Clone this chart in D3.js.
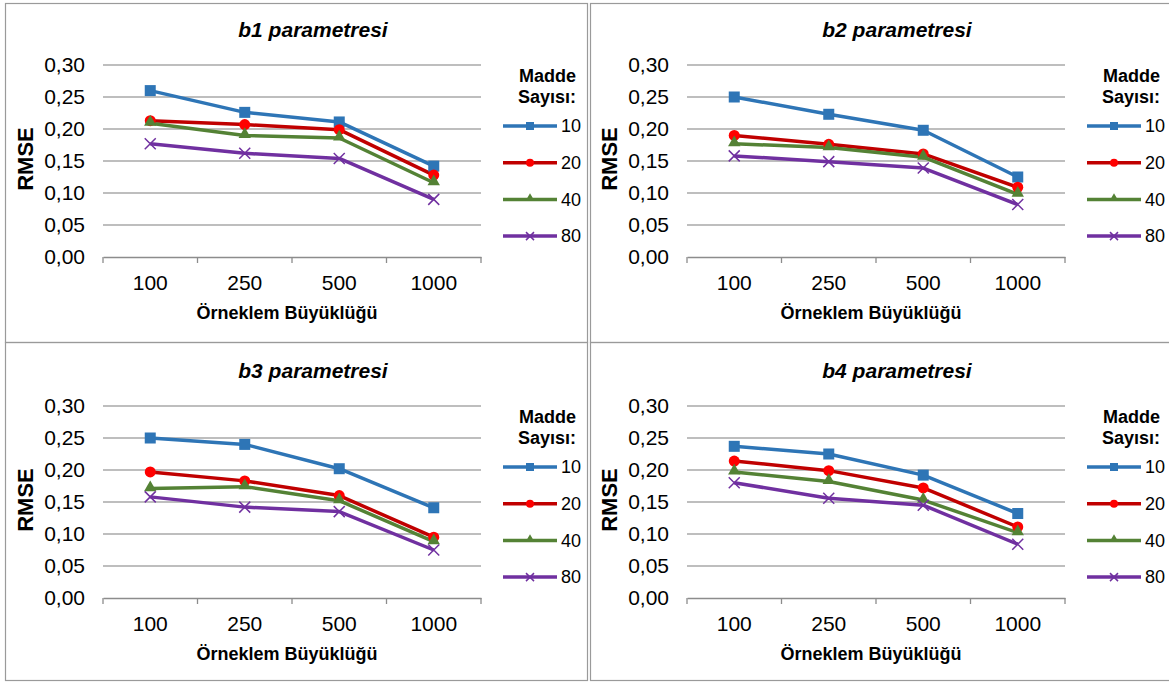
<!DOCTYPE html>
<html>
<head>
  <meta charset="utf-8">
  <style>
    body { margin: 0; background: #fff; }
    svg { display: block; font-family: "Liberation Sans", Arial, sans-serif; }
  </style>
</head>
<body>
  <div id="chart"></div>
  <script src="https://d3js.org/d3.v7.min.js"></script>
  <script>

    // data
    var sampleSizes = ["100", "250", "500", "1000"];
    var itemCounts = ["10", "20", "40", "80"];
    var panelTitles = ["b1 parametresi", "b2 parametresi", "b3 parametresi", "b4 parametresi"];
    var yTicks = [0, 0.05, 0.10, 0.15, 0.20, 0.25, 0.30];

    // one row per item count (10, 20, 40, 80), one value per sample size
    var b1Rmse = [
      [0.260, 0.226, 0.211, 0.142],
      [0.213, 0.207, 0.199, 0.128],
      [0.209, 0.190, 0.186, 0.116],
      [0.177, 0.162, 0.154, 0.090]
    ];
    var b2Rmse = [
      [0.250, 0.223, 0.198, 0.125],
      [0.190, 0.176, 0.161, 0.109],
      [0.177, 0.171, 0.156, 0.098],
      [0.158, 0.149, 0.139, 0.082]
    ];
    var b3Rmse = [
      [0.250, 0.240, 0.202, 0.141],
      [0.197, 0.183, 0.160, 0.095],
      [0.171, 0.174, 0.152, 0.088],
      [0.158, 0.142, 0.135, 0.075]
    ];
    var b4Rmse = [
      [0.237, 0.225, 0.192, 0.132],
      [0.214, 0.199, 0.172, 0.111],
      [0.197, 0.182, 0.153, 0.102],
      [0.180, 0.156, 0.145, 0.084]
    ];
    var panelData = [b1Rmse, b2Rmse, b3Rmse, b4Rmse];

    var lineColors = ["#2E75B6", "#C00000", "#548235", "#7030A0"];
    var markerColors = ["#2E75B6", "#FF0000", "#548235", "#7030A0"];
    var markerKinds = ["square", "circle", "triangle", "cross"];

    var W = 1169, H = 682;
    var svg = d3.select("#chart").append("svg")
        .attr("width", W)
        .attr("height", H);

    // frames (panel borders)
    var frames = [
      {x: 5, y: 3, w: 582, h: 339},
      {x: 590, y: 3, w: 600, h: 339},
      {x: 5, y: 342, w: 582, h: 338},
      {x: 590, y: 342, w: 600, h: 338}
    ];
    // plot area origins
    var plots = [
      {x: 103, y: 65},
      {x: 687, y: 65},
      {x: 103, y: 406},
      {x: 687, y: 406}
    ];
    var pw = 378, ph = 192;

    frames.forEach(function (f) {
      svg.append("rect")
          .attr("x", f.x + 0.5).attr("y", f.y + 0.5)
          .attr("width", f.w).attr("height", f.h)
          .attr("fill", "none")
          .attr("stroke", "#9a9a9a")
          .attr("stroke-width", 1.2);
    });

    var fmt = function (v) { return d3.format(".2f")(v).replace(".", ","); };

    function drawMarker(g, kind, cx, cy, s, color) {
      if (kind === "square") {
        g.append("rect")
            .attr("x", cx - s / 2).attr("y", cy - s / 2)
            .attr("width", s).attr("height", s)
            .attr("fill", color);
      } else if (kind === "circle") {
        g.append("circle")
            .attr("cx", cx).attr("cy", cy).attr("r", s / 2)
            .attr("fill", color);
      } else if (kind === "triangle") {
        var sym = d3.symbol().type(d3.symbolTriangle).size(s * s * 0.55);
        g.append("path")
            .attr("d", sym())
            .attr("transform", "translate(" + cx + "," + (cy - 1) + ")")
            .attr("fill", color);
      } else {
        var h = s / 2;
        g.append("path")
            .attr("d", "M" + (cx - h) + "," + (cy - h) + "L" + (cx + h) + "," + (cy + h) +
                       "M" + (cx - h) + "," + (cy + h) + "L" + (cx + h) + "," + (cy - h))
            .attr("stroke", color)
            .attr("stroke-width", 1.5)
            .attr("fill", "none");
      }
    }

    panelData.forEach(function (data, pi) {
      var p = plots[pi];
      var g = svg.append("g").attr("transform", "translate(" + p.x + "," + p.y + ")");

      var x = d3.scaleBand().domain(sampleSizes).range([0, pw]);
      var y = d3.scaleLinear().domain([0, 0.30]).range([ph, 0]);

      // gridlines
      g.selectAll("line.grid")
          .data(yTicks.filter(function (d) { return d > 0; }))
          .enter().append("line")
          .attr("class", "grid")
          .attr("x1", 0).attr("x2", pw)
          .attr("y1", function (d) { return y(d); })
          .attr("y2", function (d) { return y(d); })
          .attr("stroke", "#a8a8a8")
          .attr("stroke-width", 1.3);

      // y tick labels
      g.selectAll("text.ytick")
          .data(yTicks)
          .enter().append("text")
          .attr("class", "ytick")
          .attr("x", -18)
          .attr("y", function (d) { return y(d); })
          .attr("dy", "0.35em")
          .attr("text-anchor", "end")
          .attr("font-size", 21)
          .attr("fill", "#000")
          .text(fmt);

      // x axis
      var xAxis = d3.axisBottom(x).tickSize(0).tickPadding(18);
      var ax = g.append("g")
          .attr("transform", "translate(0," + ph + ")")
          .call(xAxis);
      ax.select(".domain").attr("stroke", "#8c8c8c").attr("stroke-width", 1.3);
      ax.selectAll("text").attr("font-size", 21).attr("fill", "#000")
          .attr("font-family", "Liberation Sans, Arial, sans-serif");
      var bounds = sampleSizes.map(function (d) { return x(d); }).concat([pw]);
      g.selectAll("line.xtick")
          .data(bounds)
          .enter().append("line")
          .attr("class", "xtick")
          .attr("x1", function (d) { return d; }).attr("x2", function (d) { return d; })
          .attr("y1", ph).attr("y2", ph + 6)
          .attr("stroke", "#8c8c8c")
          .attr("stroke-width", 1.3);

      // axis titles
      g.append("text")
          .attr("x", pw / 2 - 5)
          .attr("y", ph + 62)
          .attr("text-anchor", "middle")
          .attr("font-size", 18)
          .attr("font-weight", "bold")
          .text("Örneklem Büyüklüğü");

      g.append("text")
          .attr("transform", "translate(-70," + (ph / 2 - 2) + ") rotate(-90)")
          .attr("text-anchor", "middle")
          .attr("font-size", 22)
          .attr("font-weight", "bold")
          .text("RMSE");

      // title
      g.append("text")
          .attr("x", pw / 2 + 21)
          .attr("y", -28)
          .attr("text-anchor", "middle")
          .attr("font-size", 21)
          .attr("font-weight", "bold")
          .attr("font-style", "italic")
          .text(panelTitles[pi]);

      // lines and markers
      var line = d3.line()
          .x(function (d, i) { return x(sampleSizes[i]) + x.bandwidth() / 2; })
          .y(function (d) { return y(d); });

      data.forEach(function (series, si) {
        g.append("path")
            .datum(series)
            .attr("d", line)
            .attr("fill", "none")
            .attr("stroke", lineColors[si])
            .attr("stroke-width", 3.5)
            .attr("stroke-linejoin", "round");
      });
      data.forEach(function (series, si) {
        series.forEach(function (v, i) {
          drawMarker(g, markerKinds[si], x(sampleSizes[i]) + x.bandwidth() / 2, y(v), 11, markerColors[si]);
        });
      });

      // legend
      var lg = g.append("g").attr("transform", "translate(" + (pw + 22) + ",0)");
      lg.append("text")
          .attr("x", 73).attr("y", 17)
          .attr("text-anchor", "end")
          .attr("font-size", 18).attr("font-weight", "bold")
          .text("Madde");
      lg.append("text")
          .attr("x", 73).attr("y", 38)
          .attr("text-anchor", "end")
          .attr("font-size", 18).attr("font-weight", "bold")
          .text("Sayısı:");
      itemCounts.forEach(function (c, si) {
        var ly = 61 + si * 36.7;
        lg.append("line")
            .attr("x1", 0).attr("x2", 54)
            .attr("y1", ly).attr("y2", ly)
            .attr("stroke", lineColors[si])
            .attr("stroke-width", 3.5);
        drawMarker(lg, markerKinds[si], 27, ly, 8, markerColors[si]);
        lg.append("text")
            .attr("x", 58).attr("y", ly)
            .attr("dy", "0.35em")
            .attr("font-size", 18)
            .text(c);
      });
    });

  </script>
</body>
</html>
